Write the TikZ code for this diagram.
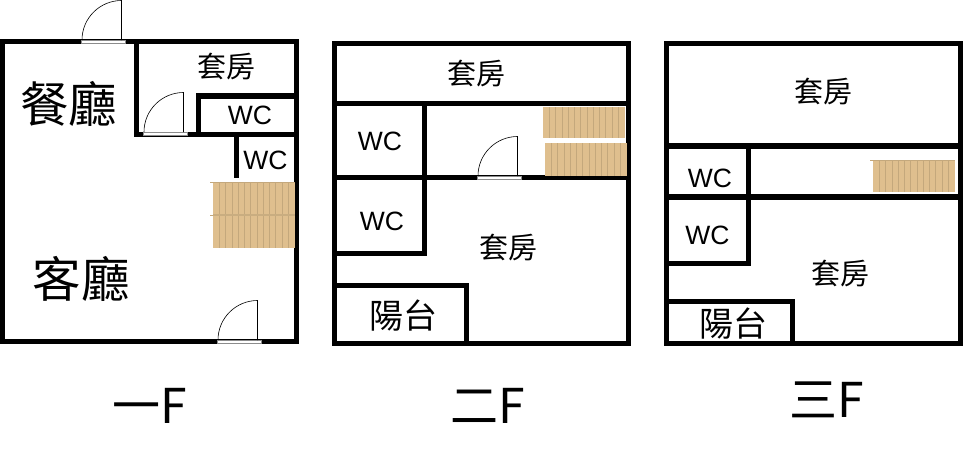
\documentclass[tikz,border=0pt]{standalone}
\usepackage{fontspec}
\setmainfont{Liberation Sans}
\newfontfamily\cjk{Noto Sans CJK TC}
\definecolor{stairfill}{HTML}{DFBF8E}
\definecolor{stairline}{HTML}{C4A87C}
\tikzset{
  wall/.style={fill=black},
  outerwall/.style={draw=black,line width=5.2pt,line join=miter},
  doorleaf/.style={draw=black,line width=0.6pt},
  doorsill/.style={fill=white,draw=black!45,line width=0.4pt},
  tread/.style={draw=stairline,line width=0.45pt},
  room/.style={inner sep=0pt,font=\cjk\fontsize{29}{29}\selectfont},
  big/.style={inner sep=0pt,font=\cjk\fontsize{48.5}{48.5}\selectfont},
  balcony/.style={inner sep=0pt,font=\cjk\fontsize{34}{34}\selectfont},
  wc/.style={inner sep=0pt,font=\fontsize{26.5}{26.5}\selectfont},
  floorname/.style={inner sep=0pt,font=\cjk\fontsize{48}{48}\selectfont}
}
\newcommand{\doorat}[2]{%
  \filldraw[doorsill] (#1+0.3,#2+0.3) rectangle ++(43.4,2.8);
  \draw[doorleaf] (#1+1,#2) .. controls (#1+1,#2-22) and (#1+19,#2-39.5) .. (#1+40.5,#2-39.5) -- (#1+40.5,#2);
}
\newcommand{\stairat}[4]{%
  \fill[stairfill] (#1,#2) rectangle (#3,#4);
  \foreach \k in {1,...,12} \draw[tread] (#1+\k*6.25,#2) -- (#1+\k*6.25,#4);
}
\begin{document}
\begin{tikzpicture}[x=1pt,y=-1pt]
\useasboundingbox (0,0) rectangle (964,450);
% first floor
\draw[outerwall] (2.6,41.6) rectangle (296.5,341.5);
\fill[wall] (134,44) rectangle (139,136);
\fill[wall] (134,132) rectangle (294,136.5);
\fill[wall] (196,93) rectangle (294,98.5);
\fill[wall] (196,93) rectangle (201,132);
\fill[wall] (234,136) rectangle (239,178);
\doorat{81}{40}
\doorat{143}{132}
\doorat{217}{340}
\stairat{213}{182}{295}{215}
\stairat{213}{215}{295}{248}
\fill[stairline!80!stairfill] (213,213.8) rectangle (295,216.2);
\draw[tread] (210,182) -- (295,182);
\draw[tread] (210,215) -- (213,215);
% second floor
\draw[outerwall] (334.6,43.3) rectangle (628.4,343.3);
\fill[wall] (337,100.7) rectangle (626,106.2);
\fill[wall] (422,106) rectangle (427,255.7);
\fill[wall] (337,174.7) rectangle (626,180);
\fill[wall] (337,250.6) rectangle (427,255.7);
\fill[wall] (337,283.2) rectangle (469,288.4);
\fill[wall] (464,283.2) rectangle (469,341);
\doorat{477}{176}
\stairat{543}{107}{625}{138}
\fill[white] (543,138) rectangle (626,143);
\stairat{545}{143}{627}{176}
% third floor
\draw[outerwall] (666.6,43.4) rectangle (960.6,343.4);
\fill[wall] (669,143.2) rectangle (958,149);
\fill[wall] (746,149) rectangle (751,266);
\fill[wall] (669,194.3) rectangle (958,199.7);
\fill[wall] (669,260.7) rectangle (751,266);
\fill[wall] (669,298.7) rectangle (795,303.7);
\fill[wall] (790,298.7) rectangle (795,341);
\stairat{873}{160}{955}{192}
\draw[tread] (870,160) -- (955,160);
% labels
\node[room] (suite1) at (226.5,66.5) {套房};
\node[wc] (wc1a) at (250,115.5) {WC};
\node[wc] (wc1b) at (265.5,160) {WC};
\node[big] (dining) at (68.5,103.5) {餐廳};
\node[big] (living) at (81,279) {客廳};
\node[room] (suite2a) at (476,74) {套房};
\node[wc] (wc2a) at (380,141.5) {WC};
\node[wc] (wc2b) at (382,221.5) {WC};
\node[room] (suite2b) at (508,248) {套房};
\node[balcony] (balc2) at (403,316) {陽台};
\node[room] (suite3a) at (823.5,92) {套房};
\node[wc] (wc3a) at (710,178) {WC};
\node[wc] (wc3b) at (707.5,235.5) {WC};
\node[room] (suite3b) at (840,274) {套房};
\node[balcony] (balc3) at (733,324) {陽台};
\node[floorname] (f1) at (150,406) {一F};
\node[floorname] (f2) at (488,406) {二F};
\node[floorname] (f3) at (827,400) {三F};
\end{tikzpicture}
\end{document}
